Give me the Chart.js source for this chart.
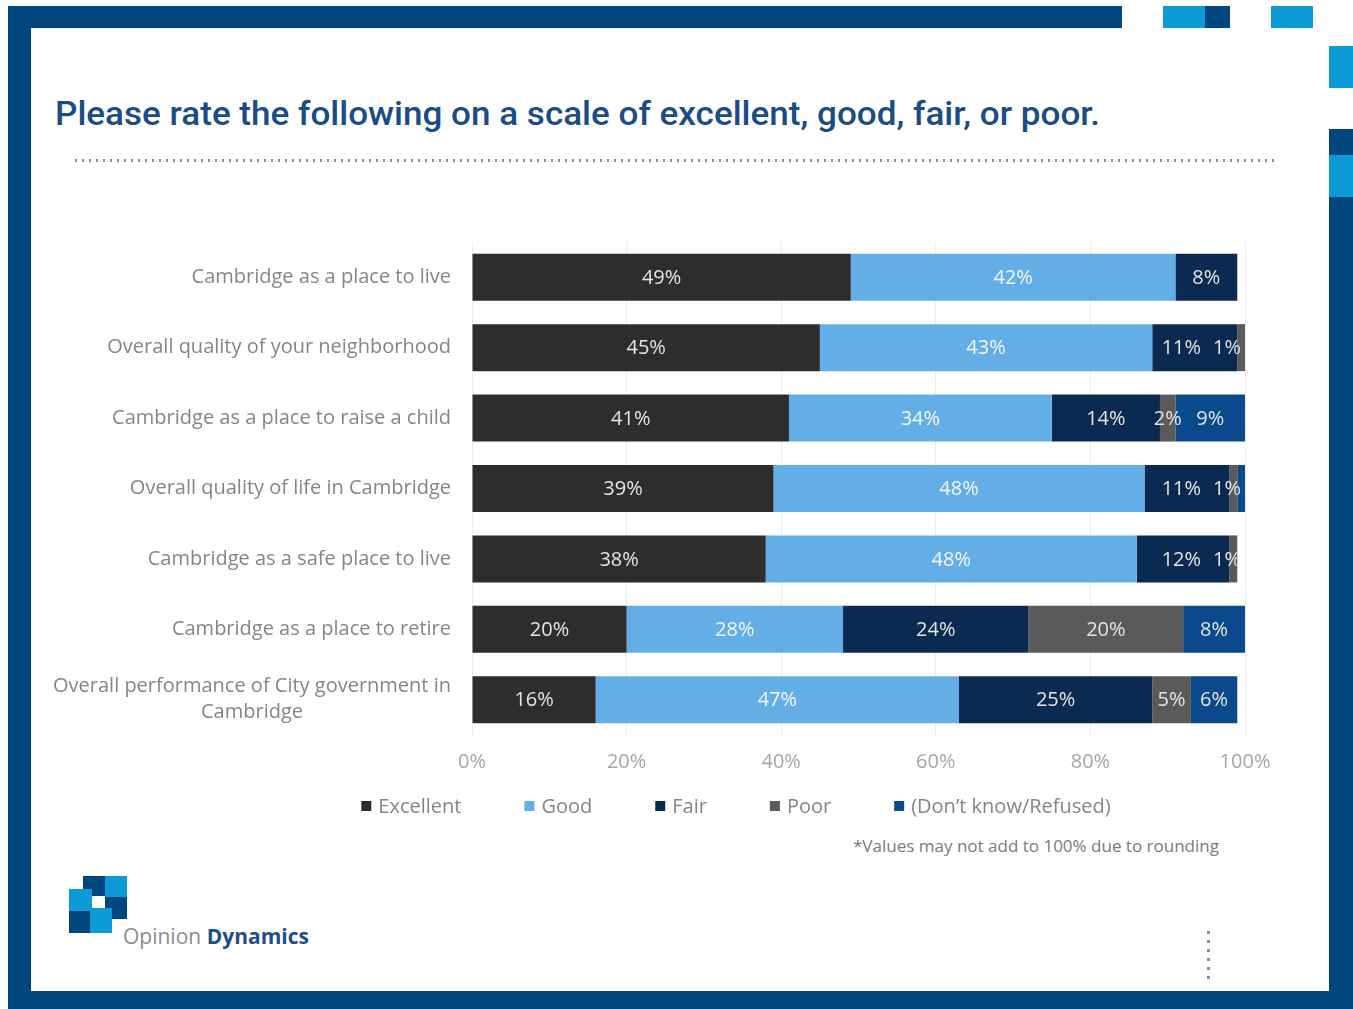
<!DOCTYPE html>
<html>
<head>
<meta charset="utf-8">
<title>Ratings of Cambridge</title>
<script src="https://cdn.jsdelivr.net/npm/chart.js@4.4.1/dist/chart.umd.min.js"></script>
<style>
  html, body { margin: 0; padding: 0; width: 1353px; height: 1009px; overflow: hidden; background: #ffffff; font-family: "Open Sans", sans-serif; }
  .blk { position: absolute; }
  .dark { background: #00467f; }
  .light { background: #0c9bd7; }
  .fit { position: absolute; white-space: nowrap; transform-origin: 0 0; line-height: 1; }
  #title { left: 55px; top: 97px; font-family: Roboto, "Open Sans", sans-serif; font-weight: 500; font-size: 33px; color: #1b4c85; }
  #rule { position: absolute; left: 75px; top: 159px; width: 1204px; height: 3px;
          background: repeating-linear-gradient(to right, #8c8c8c 0 2px, transparent 2px 7px); }
  #note { left: 853px; top: 837px; font-size: 17px; color: #7a7a7a; }
  #brand { position: absolute; left: 123px; top: 926px; font-size: 21px; line-height: 1; white-space: nowrap; }
  #brand .a { color: #8c8c8c; }
  #brand .b { color: #1f4e86; font-weight: 700; }
  #vdots { position: absolute; left: 1207px; top: 931px; width: 3px; height: 50px;
           background: repeating-linear-gradient(to bottom, #8c8c8c 0 3px, transparent 3px 9px); }
  #chart { position: absolute; left: 0; top: 0; }
</style>
</head>
<body>
  <!-- slide frame -->
  <div class="blk dark" style="left:8px;top:6px;width:1114px;height:22px;"></div>
  <div class="blk dark" style="left:8px;top:6px;width:23px;height:1003px;"></div>
  <div class="blk dark" style="left:8px;top:991px;width:1345px;height:18px;"></div>
  <div class="blk light" style="left:1163px;top:6px;width:42px;height:22px;"></div>
  <div class="blk dark" style="left:1205px;top:6px;width:25px;height:22px;"></div>
  <div class="blk light" style="left:1271px;top:6px;width:42px;height:22px;"></div>
  <div class="blk light" style="left:1329px;top:46px;width:24px;height:42px;"></div>
  <div class="blk dark" style="left:1329px;top:129px;width:24px;height:26px;"></div>
  <div class="blk light" style="left:1329px;top:155px;width:24px;height:42px;"></div>
  <div class="blk dark" style="left:1329px;top:197px;width:24px;height:812px;"></div>

  <div id="title" class="fit">Please rate the following on a scale of excellent, good, fair, or poor.</div>
  <div id="rule"></div>

  <div id="note" class="fit">*Values may not add to 100% due to rounding</div>

  <!-- logo -->
  <div class="blk dark" style="left:83px;top:876px;width:22px;height:20px;"></div>
  <div class="blk light" style="left:105px;top:876px;width:22px;height:21px;"></div>
  <div class="blk light" style="left:69px;top:889px;width:23px;height:22px;"></div>
  <div class="blk dark" style="left:105px;top:897px;width:22px;height:22px;"></div>
  <div class="blk dark" style="left:69px;top:911px;width:21px;height:22px;"></div>
  <div class="blk light" style="left:90px;top:908px;width:22px;height:25px;"></div>
  <div id="brand"><span class="a">Opinion</span> <span class="b">Dynamics</span></div>
  <div id="vdots"></div>

  <canvas id="chart" width="1353" height="1009"></canvas>

<script>
// Survey items and share of answers per rating (percent)
const categories = [
  'Cambridge as a place to live',
  'Overall quality of your neighborhood',
  'Cambridge as a place to raise a child',
  'Overall quality of life in Cambridge',
  'Cambridge as a safe place to live',
  'Cambridge as a place to retire',
  ['Overall performance of City government in', 'Cambridge']
];
const excellent = [49, 45, 41, 39, 38, 20, 16];
const good      = [42, 43, 34, 48, 48, 28, 47];
const fair      = [8, 11, 14, 11, 12, 24, 25];
const poor      = [0, 1, 2, 1, 1, 20, 5];
const dontKnow  = [0, 0, 9, 1, 0, 8, 6];
const seriesNames = ['Excellent', 'Good', 'Fair', 'Poor', '(Don\u2019t know/Refused)'];
const xTicks = [0, 20, 40, 60, 80, 100];
// rows whose "don't know" sliver carries no value label
const dontKnowUnlabeled = [3];

const FONT = '"Open Sans", sans-serif';

// value labels centred in each segment, kept inside the row's bar;
// labels that would collide are nudged to the left
const barLabels = {
  id: 'barLabels',
  afterDatasetsDraw(chart) {
    const { ctx, chartArea } = chart;
    const xs = chart.scales.x;
    const nData = chart.data.labels.length;
    ctx.save();
    ctx.font = '20px ' + FONT;
    ctx.textAlign = 'center';
    ctx.textBaseline = 'middle';
    for (let i = 0; i < nData; i++) {
      const total = chart.data.datasets.reduce((s, d) => s + (d.data[i] || 0), 0);
      const rowEnd = xs.getPixelForValue(total);
      const items = [];
      chart.data.datasets.forEach((ds, di) => {
        const v = ds.data[i];
        if (!v || (ds.unlabeled || []).includes(i)) return;
        const p = chart.getDatasetMeta(di).data[i].getProps(['x', 'y', 'base', 'height'], true);
        const text = v + '%';
        const w = ctx.measureText(text).width;
        const cx = Math.min((p.x + p.base) / 2, chartArea.right - 4 - w / 2);
        items.push({ text, w, cx, p, color: ds.labelColor });
      });
      for (let k = items.length - 2; k >= 0; k--) {
        const next = items[k + 1];
        const limit = next.cx - next.w / 2 - 12;
        if (items[k].cx + items[k].w / 2 > limit) items[k].cx = limit - items[k].w / 2;
      }
      items.forEach(it => {
        ctx.save();
        ctx.beginPath();
        ctx.rect(chartArea.left, it.p.y - it.p.height / 2, rowEnd - chartArea.left, it.p.height);
        ctx.clip();
        ctx.fillStyle = it.color;
        ctx.fillText(it.text, it.cx, it.p.y + 1);
        ctx.restore();
      });
    }
    ctx.restore();
  }
};

// category names to the left of the bars, wrapped lines centred on each other
const categoryLabels = {
  id: 'categoryLabels',
  afterDraw(chart) {
    const { ctx, chartArea } = chart;
    const ys = chart.scales.y;
    ctx.save();
    ctx.font = '20px ' + FONT;
    ctx.fillStyle = '#858585';
    ctx.textAlign = 'center';
    ctx.textBaseline = 'middle';
    chart.data.labels.forEach((lab, i) => {
      const lines = Array.isArray(lab) ? lab : [lab];
      const widest = Math.max(...lines.map(l => ctx.measureText(l).width));
      const cx = chartArea.left - 21 - widest / 2;
      const yc = ys.getPixelForTick(i);
      lines.forEach((l, k) => ctx.fillText(l, cx, yc + (k - (lines.length - 1) / 2) * 26));
    });
    ctx.restore();
  }
};

// single-row legend under the axis
const bottomLegend = {
  id: 'bottomLegend',
  afterDraw(chart, args, opts) {
    const { ctx } = chart;
    ctx.save();
    ctx.font = '20px ' + FONT;
    ctx.textAlign = 'left';
    ctx.textBaseline = 'middle';
    const box = 10, gap = 7, spacing = 63;
    const items = chart.data.datasets.map(ds => ({
      text: ds.label, color: ds.backgroundColor, w: ctx.measureText(ds.label).width
    }));
    const total = items.reduce((s, it) => s + box + gap + it.w, 0) + spacing * (items.length - 1);
    let x = opts.centerX - total / 2;
    items.forEach(it => {
      ctx.fillStyle = it.color;
      ctx.fillRect(x, opts.y - box / 2, box, box);
      ctx.fillStyle = '#858585';
      ctx.fillText(it.text, x + box + gap, opts.y + 1);
      x += box + gap + it.w + spacing;
    });
    ctx.restore();
  }
};

const colors = ['#2d2d2d', '#63aee6', '#0b2a52', '#5a5a5a', '#0a4a8c'];
const labelColors = ['#e4e4e4', '#f4f8fc', '#e4e4e4', '#e4e4e4', '#e4e4e4'];
const seriesValues = [excellent, good, fair, poor, dontKnow];

const datasets = seriesValues.map((vals, k) => ({
  label: seriesNames[k],
  data: vals,
  backgroundColor: colors[k],
  labelColor: labelColors[k],
  unlabeled: k === 4 ? dontKnowUnlabeled : [],
  borderWidth: 0,
  barPercentage: 0.667,
  categoryPercentage: 1.0
}));

new Chart(document.getElementById('chart'), {
  type: 'bar',
  data: { labels: categories, datasets },
  plugins: [barLabels, categoryLabels, bottomLegend],
  options: {
    responsive: false,
    animation: false,
    indexAxis: 'y',
    layout: { padding: { left: 20, right: 108, top: 242, bottom: 234 } },
    plugins: {
      legend: { display: false },
      tooltip: { enabled: false },
      bottomLegend: { centerX: 736, y: 806 }
    },
    scales: {
      x: {
        stacked: true,
        min: 0,
        max: 100,
        afterBuildTicks(scale) { scale.ticks = xTicks.map(v => ({ value: v })); },
        afterFit(scale) { scale.height = 40; },
        ticks: {
          callback: v => v + '%',
          color: '#a6a6a6',
          font: { family: FONT, size: 20 },
          padding: 15
        },
        grid: { color: '#ececec', drawTicks: false },
        border: { display: false }
      },
      y: {
        stacked: true,
        afterFit(scale) { scale.width = 452; },
        ticks: { display: false },
        grid: { display: false },
        border: { display: false }
      }
    }
  }
});

// stretch the title and footnote to their set widths
function fitWidth(id, width) {
  const el = document.getElementById(id);
  el.style.transform = 'none';
  const w = el.getBoundingClientRect().width;
  el.style.transform = 'scaleX(' + (width / w) + ')';
}
fitWidth('title', 1045);
fitWidth('note', 366);
</script>
</body>
</html>
